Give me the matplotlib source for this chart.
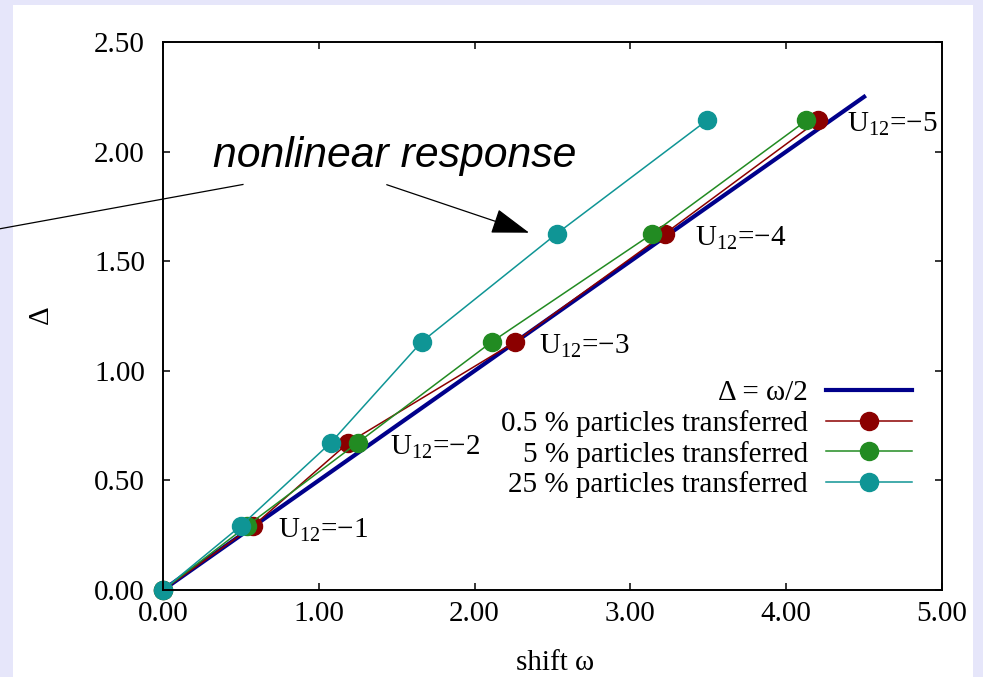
import matplotlib
matplotlib.use("Agg")
import matplotlib.pyplot as plt
from matplotlib.patches import Rectangle

# energy gap Delta at U12 = -1 .. -5 (origin included)
delta = [0.0, 0.293, 0.672, 1.132, 1.625, 2.142]
shift_05 = [0.0, 0.58, 1.19, 2.26, 3.22, 4.205]
shift_5 = [0.0, 0.54, 1.25, 2.11, 3.14, 4.13]
shift_25 = [0.0, 0.50, 1.077, 1.66, 2.526, 3.49]
ref_x = [0.0, 4.5]
ref_y = [x / 2 for x in ref_x]

u12_labels = ["\u22121", "\u22122", "\u22123", "\u22124", "\u22125"]
# text offsets (points) from the 0.5 % markers
label_dx = [18, 30, 17, 22, 21]

x_ticks = [0, 1, 2, 3, 4, 5]
y_ticks = [0, 0.5, 1.0, 1.5, 2.0, 2.5]

plt.rcParams["font.family"] = "Liberation Serif"
plt.rcParams["mathtext.fontset"] = "custom"
plt.rcParams["mathtext.rm"] = "Liberation Serif"
plt.rcParams["mathtext.it"] = "Liberation Serif:italic"

fig = plt.figure(figsize=(9.83, 6.77), dpi=100, facecolor="#e6e6fa")
fig.patches.append(Rectangle((13 / 983, 0), 960 / 983, 672 / 677,
                             transform=fig.transFigure, facecolor="white",
                             edgecolor="none", zorder=-10))
ax = fig.add_axes([163 / 983, 87 / 677, 779 / 983, 548 / 677])
ax.set_facecolor("none")

fs = 21
ax.plot(ref_x, ref_y, color="#00008b", lw=3, label="\u0394 = \u03c9/2",
        clip_on=False)
ax.plot(shift_05, delta, color="#8b0000", lw=1.1, marker="o", ms=13,
        label="0.5 % particles transferred", clip_on=False)
ax.plot(shift_5, delta, color="#228b22", lw=1.1, marker="o", ms=13,
        label="5 % particles transferred", clip_on=False)
ax.plot(shift_25, delta, color="#0f9595", lw=1.1, marker="o", ms=13,
        label="25 % particles transferred", clip_on=False)

for i, lab in enumerate(u12_labels):
    ax.annotate(r"U$_{\mathrm{12}}$=" + lab, (shift_05[i + 1], delta[i + 1]),
                xytext=(label_dx[i], -8.5), textcoords="offset points",
                ha="left", va="baseline", fontsize=fs)

# annotation with its two pointer lines
ax.text(1.49, 1.98, "nonlinear response", family="Liberation Sans",
        style="italic", fontsize=30.8, ha="center", va="center")
ax.plot([0.513, -1.17], [1.85, 1.632], color="black", lw=0.9, clip_on=False)
ax.annotate("", xy=(2.35, 1.63), xytext=(1.436, 1.849),
            arrowprops=dict(arrowstyle="-|>,head_length=2.4,head_width=0.8",
                            mutation_scale=10, color="black", lw=0.9,
                            shrinkA=0, shrinkB=0))

ax.set_xlim(0, 5)
ax.set_ylim(0, 2.5)
ax.set_xticks(x_ticks)
ax.set_yticks(y_ticks)
ax.set_xticklabels([f"{v:.2f}" for v in x_ticks])
ax.set_yticklabels([f"{v:.2f}" for v in y_ticks])
ax.tick_params(direction="in", length=5, width=1.1, labelsize=fs,
               top=True, right=True)
ax.tick_params(axis="x", pad=8)
ax.tick_params(axis="y", pad=13)
for sp in ax.spines.values():
    sp.set_linewidth(1.4)

ax.set_xlabel("shift \u03c9", fontsize=fs)
ax.set_ylabel("\u0394", fontsize=fs)
ax.xaxis.set_label_coords(0.503, -0.11)
ax.yaxis.set_label_coords(-0.14, 0.502)

ax.legend(loc="upper right", bbox_to_anchor=(0.9615, 0.384), frameon=False,
          markerfirst=False, fontsize=21, handlelength=2.95,
          handletextpad=0.62, labelspacing=0.13, borderpad=0,
          borderaxespad=0)

fig.savefig("out.png", dpi=100, facecolor=fig.get_facecolor())
